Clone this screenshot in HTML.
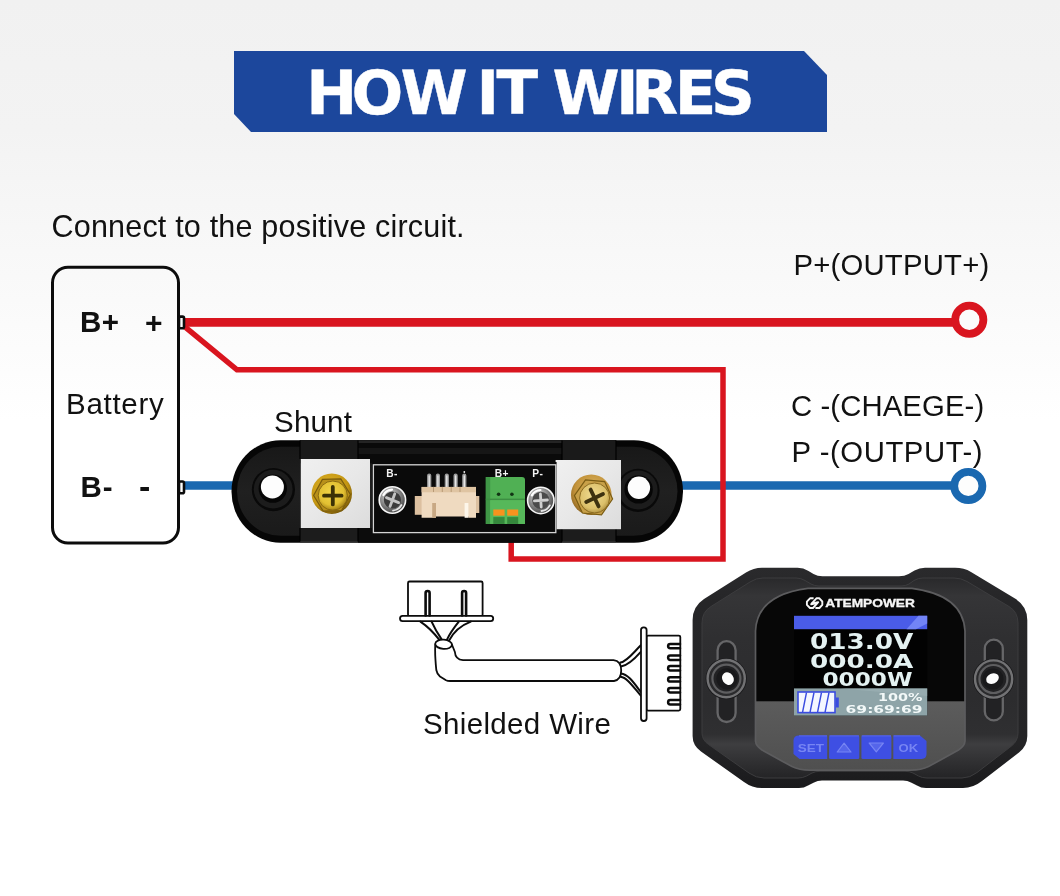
<!DOCTYPE html>
<html lang="en">
<head>
<meta charset="utf-8">
<title>How It Wires</title>
<style>
html,body{margin:0;padding:0;}
body{width:1060px;height:896px;overflow:hidden;position:relative;background:linear-gradient(to bottom,#f1f1f1 0px,#f3f3f3 130px,#fafafa 300px,#ffffff 420px,#ffffff 896px);font-family:"Liberation Sans",sans-serif;color:#111;}
#stage{position:absolute;left:0;top:0;width:1060px;height:896px;will-change:transform;}
svg{position:absolute;left:0;top:0;}
.t{position:absolute;white-space:nowrap;line-height:1;color:#111;}
.banner{position:absolute;left:234px;top:51px;width:593px;height:81px;background:#1c479c;clip-path:polygon(0 0,570px 0,593px 24px,593px 81px,17px 81px,0 63px);}
</style>
</head>
<body>
<div id="stage">
<div class="banner"></div>

<svg id="main" width="1060" height="896" viewBox="0 0 1060 896">
<text id="title" y="114.2" font-family="'DejaVu Sans','Liberation Sans',sans-serif" font-weight="bold" font-size="60.9" fill="#fff" stroke="#fff" stroke-width="0.4" x="306.2 351.6 400.5 465 476.4 496.6 536 552.5 615.9 631.3 674.7 711.1">HOW IT WIRES</text>
<!-- WIRES -->
<g fill="none" stroke-linejoin="miter">
<path d="M185 485.5 H240 M676 485.5 H954" stroke="#1a68b0" stroke-width="8.6"/>
<circle cx="968.3" cy="485.9" r="14.1" stroke="#1a68b0" stroke-width="7.8" fill="#fdfdfd"/>
<path d="M181 323.7 L237 369.8 H723 V558.9 H511.2 V538" stroke="#d9151f" stroke-width="5.5"/>
<path d="M184 322.4 H954" stroke="#d9151f" stroke-width="8.6"/>
<circle cx="969.3" cy="319.8" r="14.1" stroke="#d9151f" stroke-width="7.8" fill="#fbfbfb"/>
</g>
<!-- BATTERY -->
<rect x="52.5" y="267.2" width="126" height="275.8" rx="15.5" fill="none" stroke="#0c0c0c" stroke-width="3"/>
<rect x="179" y="316.6" width="5" height="11.6" rx="1.5" fill="#fbfbfb" stroke="#0c0c0c" stroke-width="2.6"/>
<rect x="179" y="481.5" width="5" height="11.8" rx="1.5" fill="#ffffff" stroke="#0c0c0c" stroke-width="2.6"/>
<!--SHUNT-->
<defs>
<linearGradient id="gPlate" x1="0" y1="0" x2="1" y2="1">
<stop offset="0" stop-color="#f0f0f0"/><stop offset="0.5" stop-color="#e8e8e8"/><stop offset="1" stop-color="#dcdcdc"/>
</linearGradient>
<radialGradient id="gGold" cx="0.45" cy="0.4" r="0.6">
<stop offset="0" stop-color="#f2d648"/><stop offset="0.7" stop-color="#e2c032"/><stop offset="1" stop-color="#a88416"/>
</radialGradient>
<radialGradient id="gSilver" cx="0.4" cy="0.35" r="0.7">
<stop offset="0" stop-color="#e8e8e8"/><stop offset="0.5" stop-color="#8e8e8e"/><stop offset="1" stop-color="#3e3e3e"/>
</radialGradient>
<radialGradient id="gGoldOut" cx="0.4" cy="0.35" r="0.7">
<stop offset="0" stop-color="#e0b428"/><stop offset="0.7" stop-color="#c49612"/><stop offset="1" stop-color="#6e5006"/>
</radialGradient>
<radialGradient id="gBrassOut" cx="0.55" cy="0.4" r="0.7">
<stop offset="0" stop-color="#e0bc68"/><stop offset="0.65" stop-color="#c2923a"/><stop offset="1" stop-color="#7a5418"/>
</radialGradient>
<radialGradient id="gBrass" cx="0.45" cy="0.4" r="0.65">
<stop offset="0" stop-color="#f0dc92"/><stop offset="0.7" stop-color="#dcc06a"/><stop offset="1" stop-color="#a88838"/>
</radialGradient>
<linearGradient id="gFace" x1="0" y1="0" x2="0" y2="1"><stop offset="0" stop-color="#181818"/><stop offset="0.5" stop-color="#202020"/><stop offset="1" stop-color="#1a1a1a"/></linearGradient>
</defs>
<g id="shunt">
<rect x="231.5" y="440.3" width="451.5" height="102.4" rx="49" ry="51" fill="#060606"/>
<rect x="237" y="446.8" width="440.5" height="89" rx="44" ry="44.5" fill="url(#gFace)"/>
<!-- glossy top band and bottom band -->
<rect x="300" y="440.3" width="316" height="23" fill="#0a0a0a"/>
<rect x="300" y="528" width="316" height="14.7" fill="#0c0c0c"/>
<rect x="358" y="441" width="205" height="2" fill="#242424"/><rect x="358" y="448" width="205" height="6" fill="#161616"/>
<!-- clamps -->
<rect x="300" y="440.3" width="58" height="19.5" fill="#1a1a1a"/>
<rect x="300" y="527.5" width="58" height="15.2" fill="#1c1c1c"/>
<rect x="562" y="440.3" width="54" height="20" fill="#1a1a1a"/>
<rect x="562" y="528.5" width="54" height="14.2" fill="#1c1c1c"/>
<path d="M300 440.5 V459 M358 440.5 V459 M562 440.5 V460 M616 440.5 V460 M300 528 V542 M358 528 V542 M562 529 V542 M616 529 V542" stroke="#000" stroke-width="1.2" fill="none"/>
<path d="M300 542.2 H358 M562 542.2 H616" stroke="#4a4a4a" stroke-width="1"/>
<!-- holes -->
<circle cx="273.4" cy="489.6" r="21.6" fill="#090909"/>
<circle cx="273.2" cy="489.2" r="19.4" fill="#1c1c1c"/>
<circle cx="272.8" cy="488.6" r="14.2" fill="#060606"/>
<circle cx="272.4" cy="486.9" r="11.5" fill="#fdfdfd"/>
<circle cx="638" cy="490.4" r="21.6" fill="#090909"/>
<circle cx="638.2" cy="490" r="19.4" fill="#1c1c1c"/>
<circle cx="638.6" cy="489.4" r="14.2" fill="#060606"/>
<circle cx="638.9" cy="487.8" r="11.2" fill="#fdfdfd"/>
<!-- silver plates -->
<rect x="300.8" y="459" width="69.2" height="69" fill="url(#gPlate)"/>
<rect x="555.6" y="460" width="65.4" height="69.2" fill="url(#gPlate)"/>
<!-- PCB -->
<rect x="372" y="462" width="184.6" height="71.4" fill="#0a0a0a"/><rect x="373.4" y="464.8" width="182.4" height="67.8" fill="#0a0a0a" stroke="#d4d4d4" stroke-width="1.3"/>
<!-- gold bolts -->
<g>
<circle cx="331.8" cy="493.7" r="20.2" fill="url(#gGoldOut)"/>
<polygon points="350.4,494.5 341.6,510.6 323.2,511.1 313.6,495.5 322.4,479.4 340.8,478.9" fill="#b8901a" stroke="#7a5c0c" stroke-width="1.2"/>
<circle cx="332.8" cy="495.6" r="14.6" fill="url(#gGold)" stroke="#8a6a10" stroke-width="1"/>
<path d="M332.8 487 V504.4 M324 495.7 H341.6" stroke="#3c3206" stroke-width="3.8" stroke-linecap="round"/>
</g>
<g>
<circle cx="591.3" cy="494.8" r="20.3" fill="url(#gBrassOut)"/>
<polygon points="612.6,499 601.5,514.8 582.4,513 574.4,495.6 585.5,479.8 604.6,481.6" fill="#c8a048" stroke="#7a5c14" stroke-width="1.2"/>
<circle cx="594.6" cy="498" r="15" fill="url(#gBrass)" stroke="#8a6a20" stroke-width="1"/>
<path d="M590.6 489.6 L598.6 506.4 M586.2 502 L603 494" stroke="#3e3210" stroke-width="3.8" stroke-linecap="round"/>
</g>
<!-- silver screws -->
<g>
<circle cx="392.4" cy="500" r="13.2" fill="url(#gSilver)" stroke="#f6f6f6" stroke-width="1.6"/>
<circle cx="392.4" cy="500" r="8.6" fill="#3c3c3c"/>
<path d="M386.4 497.6 L398.6 502.6 M394.8 493.8 L390 506.4" stroke="#c4c4c4" stroke-width="2.8" stroke-linecap="round"/>
<path d="M383.4 495 A10.5 10.5 0 0 1 392 489.6" stroke="#ffffff" stroke-width="2.2" fill="none" stroke-linecap="round"/>
<path d="M401.4 505 A10.5 10.5 0 0 1 393 510.6" stroke="#e4e4e4" stroke-width="1.8" fill="none" stroke-linecap="round"/>
</g>
<g>
<circle cx="540.8" cy="500.4" r="13.2" fill="url(#gSilver)" stroke="#f6f6f6" stroke-width="1.6"/>
<circle cx="540.8" cy="500.4" r="8.6" fill="#4a4a4a"/>
<path d="M534.4 500.8 L547.4 500 M540.4 494 L541.2 507" stroke="#cfcfcf" stroke-width="2.8" stroke-linecap="round"/>
<path d="M531.8 495.4 A10.5 10.5 0 0 1 540.4 490" stroke="#ffffff" stroke-width="2.2" fill="none" stroke-linecap="round"/>
<path d="M549.8 505.4 A10.5 10.5 0 0 1 541.4 511" stroke="#e4e4e4" stroke-width="1.8" fill="none" stroke-linecap="round"/>
</g>
<!-- beige connector -->
<g>
<path d="M429.2 475.5 V492 M437.9 475.5 V492 M446.8 475.5 V492 M455.6 475.5 V492 M464.3 475.5 V492" stroke="#9c9c9c" stroke-width="4.2" stroke-linecap="round"/>
<path d="M429.2 476 V490 M437.9 476 V490 M446.8 476 V490 M455.6 476 V490 M464.3 476 V490" stroke="#e6e6e6" stroke-width="1.4" stroke-linecap="round"/>
<circle cx="464.3" cy="472" r="0.9" fill="#eee"/>
<rect x="414.8" y="496" width="8" height="18.8" fill="#dcc0a0"/>
<rect x="474" y="496" width="5.3" height="17" fill="#dcc0a0"/>
<path d="M421.6 486.9 H476 V517.8 H468.4 V516.6 H436 V517.8 H421.6 Z" fill="#efdac0"/>
<rect x="421.6" y="486.9" width="54.4" height="5.4" fill="#dfc4a2"/>
<path d="M433.5 486.9 V492 M442.3 486.9 V492 M451.2 486.9 V492 M460 486.9 V492" stroke="#b89a76" stroke-width="1"/>
<rect x="432.2" y="503" width="3.8" height="14.8" fill="#c8a884"/>
<rect x="464.6" y="503" width="3.8" height="14.8" fill="#fdf6ea"/>
</g>
<!-- green terminal -->
<g>
<path d="M485.8 477.1 H522 Q525 477.1 525 480.1 V523.9 H485.8 Z" fill="#50b054"/>
<rect x="485.8" y="477.1" width="4.4" height="46.8" fill="#3f9646"/>
<rect x="485.8" y="498.6" width="39.2" height="1.6" fill="#3c8e42"/>
<rect x="490.2" y="500.2" width="34.8" height="23.7" fill="#56b85a"/>
<circle cx="498.6" cy="494.2" r="1.8" fill="#123414"/>
<circle cx="511.9" cy="494.2" r="1.8" fill="#123414"/>
<rect x="493.3" y="509.5" width="11.3" height="6.2" fill="#f7931e"/>
<rect x="507.2" y="509.5" width="11" height="6.2" fill="#f7931e"/>
<rect x="493.3" y="517.1" width="11.3" height="6.8" fill="#35883c"/>
<rect x="507.2" y="517.1" width="11" height="6.8" fill="#35883c"/>
</g>
<g font-family="'Liberation Sans',sans-serif" font-weight="bold" font-size="10.2" fill="#f4f4f4" letter-spacing="0.4">
<text x="386.2" y="477">B-</text>
<text x="494.8" y="477">B+</text>
<text x="532.2" y="477">P-</text>
</g>
</g>
<!--/SHUNT-->
<!--CABLE-->
<g id="cable" fill="none" stroke="#0c0c0c" stroke-width="1.8" stroke-linejoin="round" stroke-linecap="round">
<!-- top connector -->
<rect x="408" y="581.5" width="74.6" height="34.5" rx="1.5" fill="#fff"/>
<rect x="400" y="615.8" width="93.2" height="5.4" rx="2.6" fill="#fff"/>
<path d="M425.6 615.5 V593 a2 2 0 0 1 4 0 V615.5 M462.1 615.5 V593 a2 2 0 0 1 4 0 V615.5" stroke-width="2.6"/>
<!-- fan wires top -->
<path d="M420.4 621.6 C427 626 434.5 633.5 439.6 640.2 M431.6 621.6 C434 627 438 634 441.8 639.6" stroke-width="2"/>
<path d="M470.8 621.6 C462 625 453.5 632 449.2 640.4 M458.8 621.6 C454.5 627 449.5 634 447 639.6" stroke-width="2"/>
<!-- cable body -->
<path d="M435.3 644.5 C434.8 652 435.5 662 436.3 670 Q437 674 440 676.5 L446 680.2 Q447.5 681 450 681 H614 Q621.2 680 621.2 670.6 Q621.2 661 613.5 660.2 H463 Q455.3 659.5 454.9 652 L451.9 644.5" fill="#fff"/>
<ellipse cx="443.6" cy="644.3" rx="8.4" ry="4.6" fill="#fff" transform="rotate(4 443.6 644.3)"/>
<!-- fan right -->
<path d="M620.5 662.6 C627 661.5 633 653 640.8 645.3 M621 666.4 C628 665.5 634 659.5 640.8 651.8" stroke-width="2"/>
<path d="M621 673.4 C628 674 634 683 640.8 692 M620.6 676.8 C627 677.5 633 686.5 640.8 695.6" stroke-width="2"/>
<!-- right connector -->
<rect x="646.5" y="635.6" width="33.8" height="75" rx="1.5" fill="#fff"/>
<rect x="641" y="627.4" width="5.6" height="93.6" rx="2.7" fill="#fff"/>
<g stroke-width="2.5">
<path d="M680 643.9 H670.3 a2.2 2.2 0 0 0 0 4.4 H680"/>
<path d="M680 655.6 H670.3 a2.2 2.2 0 0 0 0 4.4 H680"/>
<path d="M680 666.1 H670.3 a2.2 2.2 0 0 0 0 4.4 H680"/>
<path d="M680 677.2 H670.3 a2.2 2.2 0 0 0 0 4.4 H680"/>
<path d="M680 688.1 H670.3 a2.2 2.2 0 0 0 0 4.4 H680"/>
<path d="M680 700.1 H670.3 a2.2 2.2 0 0 0 0 4.4 H680"/>
</g>
</g>
<!--/CABLE-->
<!--MONITOR-->
<defs>
<linearGradient id="mBody" x1="0" y1="0" x2="0" y2="1">
<stop offset="0" stop-color="#2a2a2c"/><stop offset="0.15" stop-color="#262628"/><stop offset="0.8" stop-color="#242426"/><stop offset="1" stop-color="#1a1a1c"/>
</linearGradient>
<linearGradient id="mFace" x1="0" y1="0" x2="0" y2="1">
<stop offset="0" stop-color="#29292b"/><stop offset="0.09" stop-color="#353537"/><stop offset="0.3" stop-color="#2f2f31"/><stop offset="0.6" stop-color="#2c2c2e"/><stop offset="0.78" stop-color="#2f2f31"/><stop offset="0.83" stop-color="#3e3e40"/><stop offset="0.92" stop-color="#303032"/><stop offset="1" stop-color="#242426"/>
</linearGradient>
<linearGradient id="mGray" x1="0" y1="0" x2="0" y2="1">
<stop offset="0" stop-color="#5c5c5c"/><stop offset="1" stop-color="#4e4e4e"/>
</linearGradient>
<clipPath id="bezelClip"><path d="M808 588.4 H912 Q963 595 965 631 V741 Q964.7 746 958.5 750 L928.5 766.6 Q921.5 770.2 910.5 770.2 H810 Q799 770.2 792 766.6 L762 750 Q755.8 746 755.5 741 V631 Q757 595 808 588.4 Z"/></clipPath>
</defs>
<g id="monitor">
<!-- outer body -->
<path id="mOut" d="M692.6 736 V620 Q692.6 606.5 704 599 L746 572.5 Q753.5 567.8 762 567.8 H797.5 Q803.5 567.8 808.5 571 L813.5 574 Q817.5 576.3 822.5 576.3 H899 Q904.5 576.3 908.5 574 L914.5 570.6 Q919.5 567.8 925 567.8 H955 Q964 567.8 971 572 L1015 598.5 Q1027.3 606 1027.3 620 V736 Q1027.3 746 1019 752.5 L982 781 Q973 788 963 788 H926 Q921 788 917 785.5 L911 782.5 Q907.5 780.4 903 780.4 H822 Q817.5 780.4 814 782.5 L808 785.5 Q804 788 799 788 H762 Q752 788 744 782 L701 751.5 Q692.6 745.5 692.6 736 Z" fill="url(#mBody)"/>
<!-- inner face (bevel) -->
<path d="M702 733 V623 Q702 612 711 606.5 L750 582 Q756 578 763 578 H796 Q801 578 805 580.5 L811 584 Q814.5 586 819 586 H901 Q905.5 586 909 584 L914 580.5 Q918 578 923 578 H954 Q961 578 967 581.5 L1009 606.5 Q1018 612 1018 623 V733 Q1018 741 1011.5 746 L977 772.5 Q970 778 962 778 H927 Q922 778 918.5 776 L913 773 Q909.5 771.3 905 771.3 H820 Q815.5 771.3 812 773 L806.5 776 Q803 778 798 778 H764 Q756 778 749 773 L708.5 744.5 Q702 740 702 733 Z" fill="url(#mFace)" stroke="#3c3c3e" stroke-width="1"/>
<!-- side ears -->
<g fill="none">
<rect x="717.6" y="641.2" width="18" height="80.8" rx="9" fill="#222224" stroke="#666668" stroke-width="2.3"/>
<circle cx="726.2" cy="678.6" r="20.6" fill="#1a1a1c"/>
<circle cx="726.2" cy="678.6" r="18.6" fill="#2a2a2c" stroke="#727274" stroke-width="2.4"/>
<circle cx="726.4" cy="678.6" r="14" fill="#222224" stroke="#5e5e60" stroke-width="2.2"/>
<circle cx="727" cy="678.8" r="10.6" fill="#19191b"/>
<rect x="984.8" y="639.6" width="18" height="80.8" rx="9" fill="#222224" stroke="#666668" stroke-width="2.3"/>
<circle cx="993.6" cy="679" r="20.6" fill="#1a1a1c"/>
<circle cx="993.6" cy="679" r="18.6" fill="#2a2a2c" stroke="#727274" stroke-width="2.4"/>
<circle cx="993.4" cy="679" r="14" fill="#222224" stroke="#5e5e60" stroke-width="2.2"/>
<circle cx="993" cy="679" r="10.6" fill="#19191b"/>
</g>
<ellipse cx="727.9" cy="678.6" rx="5.6" ry="6.6" fill="#fdfdfd" transform="rotate(-35 727.9 678.6)"/>
<ellipse cx="992.5" cy="678.6" rx="6.6" ry="5" fill="#fdfdfd" transform="rotate(-25 992.5 678.6)"/>
<!-- bezel -->
<g clip-path="url(#bezelClip)">
<rect x="750" y="585" width="220" height="117" fill="#070707"/>
<rect x="750" y="701.3" width="220" height="75" fill="url(#mGray)"/>
</g>
<path d="M808 588.4 H912 Q963 595 965 631 V741 Q964.7 746 958.5 750 L928.5 766.6 Q921.5 770.2 910.5 770.2 H810 Q799 770.2 792 766.6 L762 750 Q755.8 746 755.5 741 V631 Q757 595 808 588.4 Z" fill="none" stroke="#5c5c5e" stroke-width="1.7"/>
<!-- LCD -->
<rect x="794" y="615.8" width="133.2" height="99.8" fill="#020202"/>
<rect x="794" y="615.8" width="133.2" height="13.4" fill="#4a5ce8"/><path d="M918.5 615.8 H927.2 V623.4 L916 629.2 H906.5 Z" fill="#7284f6"/>
<rect x="794" y="688.4" width="133.2" height="27.2" fill="#8ea4a8"/>
<path d="M840 688.4 H927.2 V696 Z" fill="#9db3b6" opacity="0.6"/>
<!-- battery icon -->
<rect x="798" y="692" width="37" height="20.6" fill="#f4f6ff" stroke="#3a4be0" stroke-width="1.6"/>
<rect x="835.8" y="697.5" width="3" height="10" fill="#3a4be0"/>
<path d="M806.5 692.5 L802.5 712.5 M814 692.5 L810 712.5 M821.5 692.5 L817.5 712.5 M829 692.5 L825 712.5" stroke="#3a4be0" stroke-width="1.4"/>
<!-- LCD text -->
<g font-family="'DejaVu Sans','Liberation Sans',sans-serif" font-weight="bold" fill="#e4f2f2">
<text x="810" y="649.4" font-size="20.8" textLength="103.4" lengthAdjust="spacingAndGlyphs">013.0V</text>
<text x="810" y="668.1" font-size="19.8" textLength="103.4" lengthAdjust="spacingAndGlyphs">000.0A</text>
<text x="822.5" y="685.8" font-size="19.9" textLength="90" lengthAdjust="spacingAndGlyphs">0000W</text>
<text x="878" y="701" font-size="11.2" textLength="44.5" lengthAdjust="spacingAndGlyphs" fill="#f2f8f8">100%</text>
<text x="845.6" y="713.1" font-size="11.2" textLength="77" lengthAdjust="spacingAndGlyphs" fill="#f2f8f8">69:69:69</text>
</g>
<!-- logo -->
<g fill="none" stroke="#f6f6f6" stroke-width="1.9" stroke-linejoin="round">
<path d="M813.6 598.3 H810 L806.9 601.6 V604.8 L810 608 H813 L818.2 602.2 L811.6 603.4"/>
<path d="M815.4 608 H819.4 L822.3 604.8 V601.5 L819.4 598.3 H816.4 L811.2 604.2 L817.6 603"/>
</g>
<text x="825.3" y="606.9" font-family="'Liberation Sans',sans-serif" font-weight="bold" font-size="10.2" fill="#f6f6f6" stroke="#f6f6f6" stroke-width="0.3" textLength="89.6" lengthAdjust="spacingAndGlyphs">ATEMPOWER</text>
<!-- buttons -->
<g fill="#3e4fe3">
<path d="M799 735.4 H827.2 V758.9 H799.5 L793.5 754 V740.6 Q793.5 735.4 799 735.4 Z"/>
<rect x="829.1" y="735.4" width="30.2" height="23.5" rx="1.5"/>
<rect x="861.4" y="735.4" width="30" height="23.5" rx="1.5"/>
<path d="M893.3 735.4 H920 L926.5 741 V754 Q926.5 758.9 921.5 758.9 H893.3 Z"/>
</g>
<path d="M799 735.9 H827 M829.4 735.9 H859 M861.7 735.9 H891 M893.6 735.9 H920" stroke="#5767ee" stroke-width="1" fill="none"/>
<g font-family="'Liberation Sans',sans-serif" font-weight="bold" font-size="11.6" fill="#7785f3">
<text x="797.8" y="751.8" textLength="26.2" lengthAdjust="spacingAndGlyphs">SET</text>
<text x="898.6" y="751.8" textLength="19.6" lengthAdjust="spacingAndGlyphs">OK</text>
</g>
<g fill="#5565ea" stroke="#7785f3" stroke-width="1.2" stroke-linejoin="round">
<path d="M844.1 743.2 L851 752 H837.2 Z"/>
<path d="M876.3 751.8 L869.2 743 H883.4 Z"/>
</g>
</g>
<!--/MONITOR-->
</svg>

<div class="t" style="left:51.5px;top:211px;font-size:30.5px;letter-spacing:0.2px;">Connect to the positive circuit.</div>
<div class="t" style="left:80px;top:307px;font-size:29.5px;font-weight:bold;letter-spacing:0.5px;">B+</div>
<div class="t" style="left:145px;top:307.5px;font-size:30px;font-weight:bold;">+</div>
<div class="t" style="left:66px;top:389px;font-size:29.5px;letter-spacing:0.7px;">Battery</div>
<div class="t" style="left:80.6px;top:472px;font-size:29.5px;font-weight:bold;letter-spacing:0.8px;">B-</div>
<div class="t" style="left:139px;top:469.4px;font-size:34px;font-weight:bold;">-</div>
<div class="t" style="left:274px;top:406.6px;font-size:29.5px;letter-spacing:0.2px;">Shunt</div>
<div class="t" style="left:793.5px;top:250px;font-size:29.3px;letter-spacing:0.2px;">P+(OUTPUT+)</div>
<div class="t" style="left:791px;top:391.3px;font-size:29.3px;letter-spacing:0.1px;">C -(CHAEGE-)</div>
<div class="t" style="left:791.5px;top:437px;font-size:29.3px;letter-spacing:0.55px;">P -(OUTPUT-)</div>
<div class="t" style="left:423px;top:709px;font-size:29.5px;letter-spacing:0.35px;">Shielded Wire</div>
</div>
</body>
</html>
